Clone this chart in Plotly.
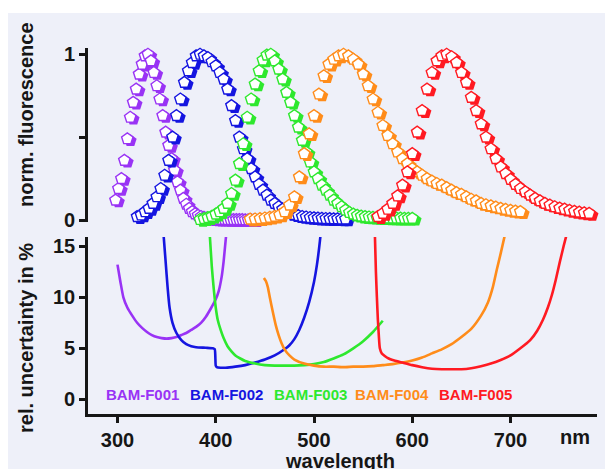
import numpy as np
import plotly.graph_objects as go

W, H = 605, 469

# ---------------- data: normalized fluorescence spectra ----------------
dye_names = ["BAM-F001", "BAM-F002", "BAM-F003", "BAM-F004", "BAM-F005"]
dye_colors = ["#9933f5", "#1515e0", "#2ee82e", "#ff8c1a", "#ff1a22"]

f001_start, f001_step = 298, 3
f001_norm = [0.12, 0.19, 0.25, 0.36, 0.49, 0.62, 0.71, 0.79, 0.88, 0.94, 0.99, 1.00,
             0.96, 0.89, 0.81, 0.73, 0.63, 0.53, 0.45, 0.37, 0.30, 0.23, 0.18, 0.13,
             0.095, 0.07, 0.05, 0.037, 0.028, 0.021, 0.016, 0.012, 0.009, 0.007, 0.006,
             0.005, 0.004, 0.004, 0.003, 0.003, 0.002, 0.002, 0.002, 0.002, 0.001,
             0.001, 0.001, 0.001]

f002_start, f002_step = 320, 4
f002_norm = [0.02, 0.03, 0.05, 0.07, 0.10, 0.14, 0.19, 0.27, 0.36, 0.50, 0.63, 0.73,
             0.83, 0.90, 0.95, 0.99, 1.00, 0.99, 0.98, 0.955, 0.93, 0.89, 0.85, 0.79,
             0.69, 0.60, 0.50, 0.43, 0.37, 0.31, 0.26, 0.215, 0.18, 0.15, 0.12, 0.10,
             0.08, 0.065, 0.05, 0.04, 0.032, 0.026, 0.021, 0.018, 0.015, 0.013, 0.011,
             0.010, 0.009, 0.008, 0.007, 0.007, 0.006, 0.006]

f003_start, f003_step = 384, 4
f003_norm = [0.003, 0.008, 0.014, 0.022, 0.035, 0.05, 0.07, 0.10, 0.16, 0.24, 0.34,
             0.46, 0.62, 0.73, 0.82, 0.90, 0.965, 0.995, 1.00, 0.96, 0.91, 0.85, 0.77,
             0.71, 0.63, 0.56, 0.48, 0.41, 0.35, 0.29, 0.25, 0.21, 0.18, 0.15, 0.12,
             0.10, 0.08, 0.06, 0.045, 0.035, 0.028, 0.023, 0.02, 0.018, 0.016, 0.015,
             0.014, 0.013, 0.012, 0.012, 0.011, 0.011, 0.01, 0.01, 0.01]

f004_start, f004_step = 435, 5
f004_norm = [0.005, 0.006, 0.008, 0.012, 0.016, 0.022, 0.03, 0.05, 0.09, 0.14, 0.26,
             0.40, 0.52, 0.63, 0.76, 0.87, 0.94, 0.97, 0.99, 1.00, 0.99, 0.97, 0.94,
             0.88, 0.81, 0.73, 0.65, 0.57, 0.51, 0.46, 0.41, 0.37, 0.34, 0.31, 0.29,
             0.27, 0.25, 0.235, 0.22, 0.21, 0.195, 0.18, 0.165, 0.155, 0.14, 0.125,
             0.115, 0.10, 0.092, 0.085, 0.078, 0.07, 0.064, 0.058, 0.053, 0.05]

f005_start, f005_step = 565, 5
f005_norm = [0.02, 0.04, 0.065, 0.10, 0.145, 0.21, 0.29, 0.40, 0.53, 0.66, 0.79, 0.89,
             0.96, 0.99, 1.00, 0.985, 0.95, 0.89, 0.83, 0.74, 0.66, 0.58, 0.50, 0.43,
             0.37, 0.32, 0.28, 0.245, 0.215, 0.19, 0.17, 0.15, 0.13, 0.115, 0.10, 0.09,
             0.08, 0.072, 0.065, 0.058, 0.052, 0.047, 0.043, 0.04]

# ---------------- data: relative uncertainty in % ----------------
f001_unc_wl = [300, 303, 306, 310, 315, 320, 325, 330, 335, 340, 345, 350, 355, 360,
               365, 370, 375, 380, 385, 390, 395, 400, 403, 406, 408, 410, 411]
f001_unc = [13.2, 11.5, 10.0, 9.0, 8.2, 7.5, 7.0, 6.6, 6.3, 6.1, 6.0, 5.95, 6.0, 6.1,
            6.3, 6.5, 6.8, 7.1, 7.5, 8.1, 8.9, 9.8, 10.6, 12.0, 13.5, 15.5, 16.5]

f002_unc_wl = [347, 349, 351, 353, 356, 360, 365, 370, 375, 380, 390, 397, 399, 400,
               401, 405, 410, 420, 430, 440, 450, 460, 470, 475, 480, 485, 490, 495,
               500, 503, 506, 507]
f002_unc = [16.0, 13.5, 11.0, 9.0, 7.5, 6.5, 5.8, 5.4, 5.2, 5.1, 5.05, 5.0, 4.9, 3.3,
            3.15, 3.1, 3.1, 3.2, 3.35, 3.6, 3.9, 4.3, 4.9, 5.3, 5.9, 6.8, 8.0, 9.5,
            11.5, 13.2, 15.5, 16.5]

f003_unc_wl = [394, 396, 398, 400, 402, 405, 408, 412, 416, 420, 425, 430, 440, 450,
               460, 470, 480, 490, 500, 510, 520, 530, 540, 550, 560, 570]
f003_unc = [16.0, 13.0, 10.8, 9.0, 7.8, 6.8, 6.0, 5.2, 4.7, 4.3, 4.0, 3.75, 3.5, 3.35,
            3.3, 3.3, 3.3, 3.35, 3.45, 3.65, 4.0, 4.4, 5.0, 5.7, 6.6, 7.7]

f004_unc_wl = [449, 451, 453, 455, 458, 461, 464, 467, 470, 475, 480, 490, 500, 510,
               520, 530, 540, 550, 560, 570, 580, 590, 600, 610, 620, 630, 640, 650,
               660, 670, 677, 682, 686, 690, 694]
f004_unc = [11.9, 11.6, 11.0, 10.0, 8.6, 7.3, 6.3, 5.5, 4.9, 4.3, 3.9, 3.5, 3.3, 3.2,
            3.2, 3.15, 3.2, 3.2, 3.25, 3.35, 3.45, 3.6, 3.8, 4.1, 4.5, 4.9, 5.4, 6.1,
            6.9, 8.2, 9.5, 11.0, 12.7, 14.3, 16.0]

f005_unc_wl = [562, 563, 564, 565, 566, 567, 569, 572, 576, 580, 590, 600, 610, 620,
               630, 640, 650, 660, 670, 680, 690, 700, 710, 720, 727, 733, 738, 742,
               746, 750, 754, 758]
f005_unc = [16.0, 12.5, 10.0, 7.8, 6.2, 5.0, 4.5, 4.25, 4.0, 3.85, 3.6, 3.35, 3.15,
            3.0, 2.95, 2.95, 2.95, 3.05, 3.25, 3.5, 3.85, 4.3, 5.0, 5.8, 6.7, 7.8, 9.0,
            10.2, 11.7, 13.4, 15.0, 16.5]

x_tick_vals = [300, 400, 500, 600, 700]
unc_tick_vals = [0, 5, 10, 15]
norm_tick_vals = [0, 0.5, 1]
norm_tick_text = ["0", "", "1"]

# ---------------- figure ----------------
FONT = "Liberation Sans, Arial, sans-serif"
INK = "#161616"
BG = "#eef0f9"


def px_x(p):
    return p / W


def px_y(p):
    return 1 - p / H


spectra = [
    (f001_start, f001_step, f001_norm),
    (f002_start, f002_step, f002_norm),
    (f003_start, f003_step, f003_norm),
    (f004_start, f004_step, f004_norm),
    (f005_start, f005_step, f005_norm),
]
uncert = [
    (f001_unc_wl, f001_unc),
    (f002_unc_wl, f002_unc),
    (f003_unc_wl, f003_unc),
    (f004_unc_wl, f004_unc),
    (f005_unc_wl, f005_unc),
]

SHADOW_DX = 3.2     # nm, offset of the coloured "shadow" pentagon
SHADOW_DY = -0.012  # normalized units

fig = go.Figure()

for (start, step, vals), col, name in zip(spectra, dye_colors, dye_names):
    vals = np.array(vals)
    wl = start + step * np.arange(len(vals))
    fig.add_trace(go.Scatter(
        x=wl + SHADOW_DX, y=vals + SHADOW_DY, mode="markers", xaxis="x2", yaxis="y2",
        marker=dict(symbol="pentagon", size=13, color=col, line=dict(width=0)),
        cliponaxis=False, showlegend=False, hoverinfo="skip"))
    fig.add_trace(go.Scatter(
        x=wl, y=vals, mode="markers", xaxis="x2", yaxis="y2", name=name,
        marker=dict(symbol="pentagon", size=12, color="white",
                    line=dict(width=1.4, color=col)),
        cliponaxis=False, showlegend=False))

for (wl, u), col, name in zip(uncert, dye_colors, dye_names):
    fig.add_trace(go.Scatter(
        x=wl, y=u, mode="lines", xaxis="x", yaxis="y", name=name,
        line=dict(color=col, width=2.6, shape="spline", smoothing=0.5),
        showlegend=False))

x_dom = [px_x(88), px_x(597)]
tickfont = dict(family=FONT, size=20, color=INK, weight="bold")
axis_common = dict(showline=True, linewidth=2.6, linecolor=INK,
                   ticks="outside", ticklen=6, tickwidth=2.6, tickcolor=INK,
                   tickfont=tickfont, showgrid=False, zeroline=False,
                   automargin=False)

fig.update_layout(
    template="none",
    width=W, height=H,
    margin=dict(l=0, r=0, t=0, b=0, pad=0, autoexpand=False),
    paper_bgcolor="white",
    plot_bgcolor="rgba(0,0,0,0)",
    showlegend=False,
    xaxis=dict(domain=x_dom, range=[270, 788], anchor="y",
               tickvals=x_tick_vals, **axis_common),
    yaxis=dict(domain=[px_y(414), px_y(237)], range=[-1.44, 15.91], anchor="x",
               tickvals=unc_tick_vals, **axis_common),
    xaxis2=dict(domain=x_dom, range=[270, 788], anchor="y2", visible=False,
                automargin=False),
    yaxis2=dict(domain=[px_y(222), px_y(48)], range=[-0.012, 1.038], anchor="x2",
                tickvals=norm_tick_vals, ticktext=norm_tick_text, **axis_common),
)

fig.add_shape(type="rect", xref="paper", yref="paper",
              x0=px_x(8), x1=1, y0=0, y1=px_y(13),
              fillcolor=BG, line=dict(width=0), layer="below")

titlefont = dict(family=FONT, size=20, color=INK, weight="bold")


def note(text, cx, cy, font, angle=0):
    fig.add_annotation(text=text, textangle=angle, xref="paper", yref="paper",
                       x=px_x(cx), y=px_y(cy), xanchor="center", yanchor="middle",
                       showarrow=False, font=font)


note("norm. fluorescence", 26, 115, titlefont, -90)
note("rel. uncertainty in %", 26, 338, titlefont, -90)
note("wavelength", 340, 461, titlefont)
note("nm", 575, 437, titlefont)

label_centers = [142, 226, 310, 392, 475]
for name, col, cx in zip(dye_names, dye_colors, label_centers):
    note(name, cx, 394, dict(family=FONT, size=15, color=col, weight="bold"))

fig.write_html("out.html",
               config={"displayModeBar": False},
               post_script="document.body.style.margin='0';"
                           "document.body.style.padding='0';")
